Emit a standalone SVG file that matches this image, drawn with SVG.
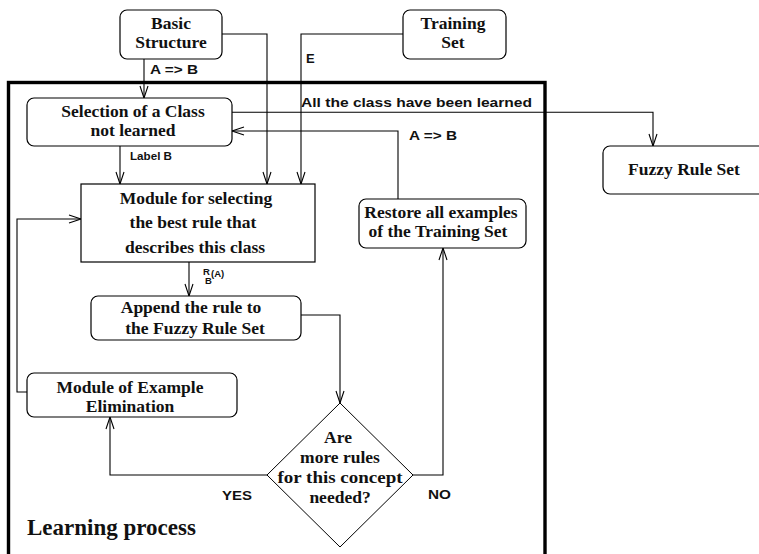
<svg xmlns="http://www.w3.org/2000/svg" width="759" height="554" viewBox="0 0 759 554">
<style>
.box{fill:#fff;stroke:#000;stroke-width:1.2}
.t{font-family:"Liberation Serif","Times New Roman",serif;font-weight:bold;font-size:17.5px;text-anchor:middle;fill:#111}
.s{font-family:"Liberation Sans",Arial,sans-serif;font-weight:bold;font-size:13px;fill:#111}
.c{fill:none;stroke:#000;stroke-width:1.1}
</style>
<defs>
<marker id="a" markerUnits="userSpaceOnUse" markerWidth="14" markerHeight="10" viewBox="-12 -5 14 10" refX="0" refY="0" orient="auto" overflow="visible">
<path d="M-12,-4 L0,0 L-12,4" fill="none" stroke="#000" stroke-width="1.1"/>
</marker>
</defs>
<rect width="759" height="554" fill="#fff"/>
<g id="frame">
<rect x="8.5" y="82.5" width="536.5" height="490" fill="none" stroke="#000" stroke-width="3.4"/>
<text x="27" y="535" style="font-family:'Liberation Serif','Times New Roman',serif;font-weight:bold;font-size:23px;fill:#111">Learning process</text>
</g>
<g id="connectors">
<path class="c" d="M144,59 V98" marker-end="url(#a)"/>
<path class="c" d="M222,34 H267 V184" marker-end="url(#a)"/>
<path class="c" d="M403,34 H301 V184" marker-end="url(#a)"/>
<path class="c" d="M232,112.3 H653 V146" marker-end="url(#a)"/>
<path class="c" d="M398,199 V131 H232" marker-end="url(#a)"/>
<path class="c" d="M120,146 V184" marker-end="url(#a)"/>
<path class="c" d="M189,262 V296" marker-end="url(#a)"/>
<path class="c" d="M301,315 H340 V403" marker-end="url(#a)"/>
<path class="c" d="M413,475 H443 V248" marker-end="url(#a)"/>
<path class="c" d="M267,475 H110 V417" marker-end="url(#a)"/>
<path class="c" d="M27,392 H17 V219 H81" marker-end="url(#a)"/>
<text class="s" x="150" y="74" textLength="48" lengthAdjust="spacingAndGlyphs">A =&gt; B</text>
<text class="s" x="306" y="63">E</text>
<text class="s" x="301" y="107" textLength="231" lengthAdjust="spacingAndGlyphs">All the class have been learned</text>
<text class="s" x="409" y="140" textLength="48" lengthAdjust="spacingAndGlyphs">A =&gt; B</text>
<text class="s" x="130" y="160" style="font-size:11px" textLength="42" lengthAdjust="spacingAndGlyphs">Label B</text>
<text class="s" x="203" y="275" style="font-size:9.5px">R</text>
<text class="s" x="205" y="284" style="font-size:9.5px">B</text>
<text class="s" x="211" y="277" style="font-size:9.5px">(A)</text>
<text class="s" x="222" y="500" textLength="30" lengthAdjust="spacingAndGlyphs">YES</text>
<text class="s" x="428" y="499" textLength="23" lengthAdjust="spacingAndGlyphs">NO</text>
</g>
<g id="basic">
<rect class="box" x="120" y="10" width="102" height="49" rx="7"/>
<text class="t" x="171" y="29">Basic</text>
<text class="t" x="171" y="48">Structure</text>
</g>
<g id="training">
<rect class="box" x="403" y="10" width="103" height="49" rx="7"/>
<text class="t" x="453" y="29">Training</text>
<text class="t" x="453" y="48">Set</text>
</g>
<g id="selection">
<rect class="box" x="27" y="98" width="205" height="48" rx="7"/>
<text class="t" x="133" y="117">Selection of a Class</text>
<text class="t" x="133" y="136">not learned</text>
</g>
<g id="fuzzy">
<rect class="box" x="603" y="146" width="170" height="48" rx="7"/>
<text class="t" x="684" y="175">Fuzzy Rule Set</text>
</g>
<g id="module">
<rect class="box" x="81" y="184" width="234" height="78"/>
<text class="t" x="196" y="204">Module for selecting</text>
<text class="t" x="193" y="228">the best rule that</text>
<text class="t" x="195" y="253">describes this class</text>
</g>
<g id="restore">
<rect class="box" x="359" y="199" width="167" height="49" rx="7"/>
<text class="t" x="441" y="218">Restore all examples</text>
<text class="t" x="438" y="237">of the Training Set</text>
</g>
<g id="append">
<rect class="box" x="91" y="296" width="210" height="44" rx="7"/>
<text class="t" x="191" y="313">Append the rule to</text>
<text class="t" x="195" y="334">the Fuzzy Rule Set</text>
</g>
<g id="elimination">
<rect class="box" x="27" y="373" width="210" height="44" rx="7"/>
<text class="t" x="130" y="393">Module of Example</text>
<text class="t" x="130" y="412">Elimination</text>
</g>
<g id="decision">
<polygon class="box" points="340,403 413,475 340,547 267,475" style="stroke-width:1"/>
<text class="t" x="338" y="443">Are</text>
<text class="t" x="340" y="463">more rules</text>
<text class="t" x="340" y="483" textLength="125" lengthAdjust="spacingAndGlyphs">for this concept</text>
<text class="t" x="340" y="503">needed?</text>
</g>
</svg>
